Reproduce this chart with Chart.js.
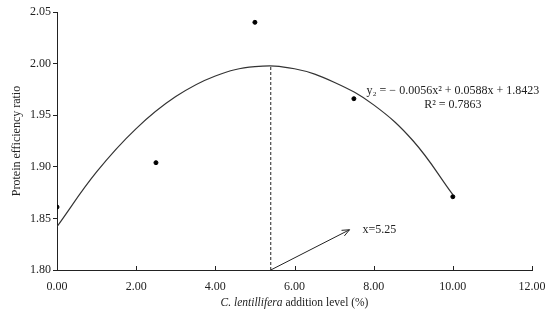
<!DOCTYPE html>
<html lang="en">
<head>
  <meta charset="UTF-8">
  <title>Protein efficiency ratio</title>
  <style>
    html, body { margin: 0; padding: 0; background: #fff; }
    #wrap { width: 550px; height: 314px; }
  </style>
</head>
<body>
  <div id="wrap"><canvas id="perChart" width="550" height="314"></canvas></div>

  <script src="https://cdn.jsdelivr.net/npm/chart.js"></script>
  <script>
    // data
    const levels = [0, 2.5, 5, 7.5, 10];
    const perValues = [1.861, 1.904, 2.040, 1.966, 1.871];
    // fitted curve
    const fitX = [0, 1, 2, 3, 4, 5, 6, 7, 8, 9, 10];
    const fitY = [1.842, 1.895, 1.937, 1.968, 1.988, 1.997, 1.995, 1.982, 1.960, 1.925, 1.873];
    const peakX = 5.4;
    const peakY = 1.998;
    const arrowEnd = [7.39, 1.839];
    const xTicks = [0, 2, 4, 6, 8, 10, 12];
    const yTicks = [1.80, 1.85, 1.90, 1.95, 2.00, 2.05];
    const equation = 'y\u2082 = \u2212 0.0056x\u00B2 + 0.0588x + 1.8423';
    const rSquared = 'R\u00B2 = 0.7863';
    const peakLabel = 'x=5.25';

    const ink = '#222';
    const serif = '"Liberation Serif", "DejaVu Serif", serif';

    // x ticks point inward, plus annotations and titles
    const extras = {
      id: 'extras',
      afterDraw(chart) {
        const { ctx, scales: { x, y } } = chart;
        ctx.save();
        ctx.strokeStyle = ink;
        ctx.lineWidth = 1;
        // inward ticks on x axis
        xTicks.forEach(v => {
          const px = Math.round(x.getPixelForValue(v)) + 0.5;
          ctx.beginPath();
          ctx.moveTo(px, y.bottom);
          ctx.lineTo(px, y.bottom - 4);
          ctx.stroke();
        });
        // arrow
        const x0 = x.getPixelForValue(peakX), y0 = y.getPixelForValue(1.80);
        const x1 = x.getPixelForValue(arrowEnd[0]), y1 = y.getPixelForValue(arrowEnd[1]);
        ctx.beginPath();
        ctx.moveTo(x0, y0);
        ctx.lineTo(x1, y1);
        ctx.stroke();
        const ang = Math.atan2(y1 - y0, x1 - x0);
        ctx.beginPath();
        ctx.moveTo(x1 - 8 * Math.cos(ang - 0.4), y1 - 8 * Math.sin(ang - 0.4));
        ctx.lineTo(x1, y1);
        ctx.lineTo(x1 - 8 * Math.cos(ang + 0.4), y1 - 8 * Math.sin(ang + 0.4));
        ctx.stroke();

        ctx.fillStyle = ink;
        ctx.font = '12px ' + serif;
        ctx.textBaseline = 'middle';
        ctx.textAlign = 'left';
        ctx.fillText(peakLabel, x.getPixelForValue(7.72), y1);
        ctx.textAlign = 'center';
        ctx.fillText(equation, x.getPixelForValue(10.0), y.getPixelForValue(1.9734));
        ctx.fillText(rSquared, x.getPixelForValue(10.0), y.getPixelForValue(1.9600));

        // axis titles
        ctx.font = '12px ' + serif;
        ctx.save();
        ctx.translate(17, (y.top + y.bottom) / 2);
        ctx.rotate(-Math.PI / 2);
        ctx.fillText('Protein efficiency ratio', 0, 0);
        ctx.restore();

        const part1 = 'C. lentillifera';
        const part2 = ' addition level (%)';
        const tf = '11.5px ' + serif;
        ctx.font = 'italic ' + tf;
        const w1 = ctx.measureText(part1).width;
        ctx.font = tf;
        const w2 = ctx.measureText(part2).width;
        const cx = (x.left + x.right) / 2;
        const sx = cx - (w1 + w2) / 2;
        ctx.textAlign = 'left';
        ctx.font = 'italic ' + tf;
        ctx.fillText(part1, sx, 303);
        ctx.font = tf;
        ctx.fillText(part2, sx + w1, 303);
        ctx.restore();
      }
    };

    const ctx = document.getElementById('perChart').getContext('2d');
    const perChart = new Chart(ctx, {
      type: 'scatter',
      data: {
        datasets: [
          {
            label: 'PER',
            data: levels.map((v, i) => ({ x: v, y: perValues[i] })),
            backgroundColor: '#000',
            borderColor: '#000',
            pointRadius: 2,
            pointHoverRadius: 2
          },
          {
            label: 'Fit',
            type: 'line',
            data: fitX.map((v, i) => ({ x: v, y: fitY[i] })),
            borderColor: '#333',
            borderWidth: 1.2,
            pointRadius: 0,
            tension: 0.4,
            fill: false
          },
          {
            label: 'Peak',
            type: 'line',
            data: [{ x: peakX, y: 1.80 }, { x: peakX, y: peakY }],
            borderColor: ink,
            borderWidth: 1,
            borderDash: [3, 2],
            pointRadius: 0,
            fill: false
          }
        ]
      },
      options: {
        responsive: false,
        animation: false,
        events: [],
        layout: { padding: { left: 0, right: 18, top: 12, bottom: 0 } },
        plugins: {
          legend: { display: false },
          tooltip: { enabled: false }
        },
        scales: {
          x: {
            type: 'linear',
            min: 0,
            max: 12,
            afterBuildTicks: s => { s.ticks = xTicks.map(v => ({ value: v })); },
            afterFit: s => { s.height = 44; },
            grid: { display: false },
            border: { color: ink, width: 1 },
            ticks: {
              color: ink,
              padding: 2,
              maxRotation: 0,
              font: { family: serif, size: 12 },
              callback: v => Number(v).toFixed(2)
            }
          },
          y: {
            min: 1.80,
            max: 2.05,
            afterBuildTicks: s => { s.ticks = yTicks.map(v => ({ value: v })); },
            afterFit: s => { s.width = 57; },
            grid: { drawOnChartArea: false, tickLength: 4, color: ink },
            border: { color: ink, width: 1 },
            ticks: {
              color: ink,
              padding: 2,
              font: { family: serif, size: 12 },
              callback: v => Number(v).toFixed(2)
            }
          }
        }
      },
      plugins: [extras]
    });
  </script>
</body>
</html>
